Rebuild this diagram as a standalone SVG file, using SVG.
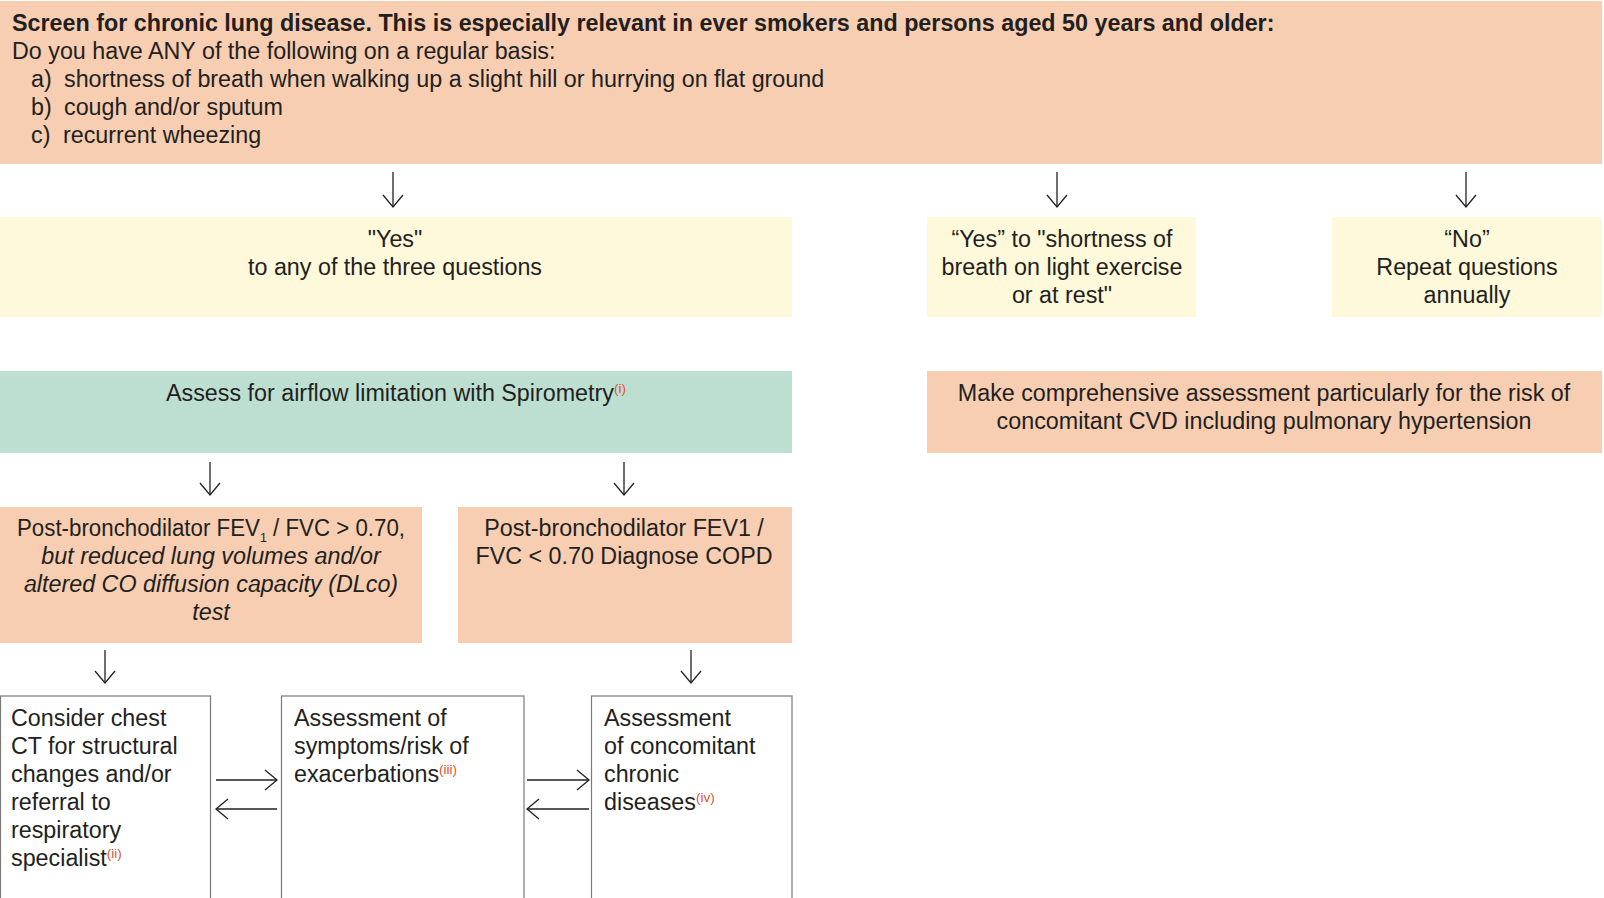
<svg xmlns="http://www.w3.org/2000/svg" width="1604" height="898" viewBox="0 0 1604 898">
<style>
  text { font-family: "Liberation Sans", Arial, sans-serif; font-size: 23.3px; fill: #231F20; }
  .b { font-weight: bold; }
  .it { font-style: italic; }
  .c { text-anchor: middle; }
  .sup { font-size: 13.5px; fill: #E5502E; }
  .sub { font-size: 13px; }
  .peach { fill: #F7CEB1; }
  .yellow { fill: #FEF9DA; }
  .green { fill: #BCDFD2; }
  .white { fill: #FFFFFF; stroke: #7A7A7A; stroke-width: 1.2; }
  .conn { stroke: #231F20; stroke-width: 1.3; fill: none; marker-end: url(#ah); }
</style>
<defs>
  <marker id="ah" markerUnits="userSpaceOnUse" markerWidth="30" markerHeight="30" refX="0" refY="0" viewBox="-15 -15 30 30" orient="auto" overflow="visible">
    <path d="M-12,-10 L0,0 L-12,10" fill="none" stroke="#231F20" stroke-width="1.3"/>
  </marker>
</defs>
<rect width="1604" height="898" fill="#FFFFFF"/>

<g id="screen">
  <rect class="peach" x="0" y="1" width="1602" height="163"/>
  <text class="b" x="12" y="31">Screen for chronic lung disease. This is especially relevant in ever smokers and persons aged 50 years and older:</text>
  <text x="12" y="59">Do you have ANY of the following on a regular basis:</text>
  <text x="31" y="87">a)</text><text x="64" y="87">shortness of breath when walking up a slight hill or hurrying on flat ground</text>
  <text x="31" y="115">b)</text><text x="64" y="115">cough and/or sputum</text>
  <text x="31" y="143">c)</text><text x="63" y="143">recurrent wheezing</text>
</g>

<g id="yes-any">
  <rect class="yellow" x="0" y="217" width="792" height="100"/>
  <text class="c" x="395" y="247">"Yes"</text>
  <text class="c" x="395" y="275">to any of the three questions</text>
</g>

<g id="yes-sob">
  <rect class="yellow" x="927" y="217" width="269" height="100"/>
  <text class="c" x="1062" y="247">“Yes” to "shortness of</text>
  <text class="c" x="1062" y="275">breath on light exercise</text>
  <text class="c" x="1062" y="303">or at rest"</text>
</g>

<g id="no">
  <rect class="yellow" x="1332" y="217" width="270" height="100"/>
  <text class="c" x="1467" y="247">“No”</text>
  <text class="c" x="1467" y="275">Repeat questions</text>
  <text class="c" x="1467" y="303">annually</text>
</g>

<g id="spirometry">
  <rect class="green" x="0" y="371" width="792" height="82"/>
  <text class="c" x="396" y="401">Assess for airflow limitation with Spirometry<tspan class="sup" dy="-8">(i)</tspan></text>
</g>

<g id="comprehensive">
  <rect class="peach" x="927" y="371" width="675" height="82"/>
  <text class="c" x="1264" y="401">Make comprehensive assessment particularly for the risk of</text>
  <text class="c" x="1264" y="429">concomitant CVD including pulmonary hypertension</text>
</g>

<g id="fev-normal">
  <rect class="peach" x="0" y="507" width="422" height="136"/>
  <text class="c" x="211" y="536" textLength="388" lengthAdjust="spacingAndGlyphs">Post-bronchodilator FEV<tspan class="sub" dy="6">1</tspan><tspan dy="-6"> / FVC &gt; 0.70,</tspan></text>
  <text class="c it" x="211" y="564">but reduced lung volumes and/or</text>
  <text class="c it" x="211" y="592">altered CO diffusion capacity (DLco)</text>
  <text class="c it" x="211" y="620">test</text>
</g>

<g id="copd">
  <rect class="peach" x="458" y="507" width="334" height="136"/>
  <text class="c" x="624" y="536">Post-bronchodilator FEV1 /</text>
  <text class="c" x="624" y="564">FVC &lt; 0.70 Diagnose COPD</text>
</g>

<g id="chest-ct">
  <rect class="white" x="0.5" y="696" width="210" height="220"/>
  <text x="11" y="726">Consider chest</text>
  <text x="11" y="754">CT for structural</text>
  <text x="11" y="782">changes and/or</text>
  <text x="11" y="810">referral to</text>
  <text x="11" y="838">respiratory</text>
  <text x="11" y="866">specialist<tspan class="sup" dy="-8">(ii)</tspan></text>
</g>

<g id="symptoms">
  <rect class="white" x="281.5" y="696" width="242.5" height="220"/>
  <text x="294" y="726">Assessment of</text>
  <text x="294" y="754">symptoms/risk of</text>
  <text x="294" y="782">exacerbations<tspan class="sup" dy="-8">(iii)</tspan></text>
</g>

<g id="comorbid">
  <rect class="white" x="591.5" y="696" width="200.5" height="220"/>
  <text x="604" y="726">Assessment</text>
  <text x="604" y="754">of concomitant</text>
  <text x="604" y="782">chronic</text>
  <text x="604" y="810">diseases<tspan class="sup" dy="-8">(iv)</tspan></text>
</g>

<g id="connectors">
  <line class="conn" x1="393" y1="172" x2="393" y2="207"/>
  <line class="conn" x1="1057" y1="172" x2="1057" y2="207"/>
  <line class="conn" x1="1466" y1="172" x2="1466" y2="207"/>
  <line class="conn" x1="210" y1="462" x2="210" y2="495"/>
  <line class="conn" x1="624" y1="462" x2="624" y2="495"/>
  <line class="conn" x1="105" y1="650" x2="105" y2="683"/>
  <line class="conn" x1="691" y1="650" x2="691" y2="683"/>
  <line class="conn" x1="216" y1="780" x2="277" y2="780"/>
  <line class="conn" x1="277" y1="809" x2="216" y2="809"/>
  <line class="conn" x1="527" y1="780" x2="589" y2="780"/>
  <line class="conn" x1="589" y1="809" x2="527" y2="809"/>
</g>
</svg>
